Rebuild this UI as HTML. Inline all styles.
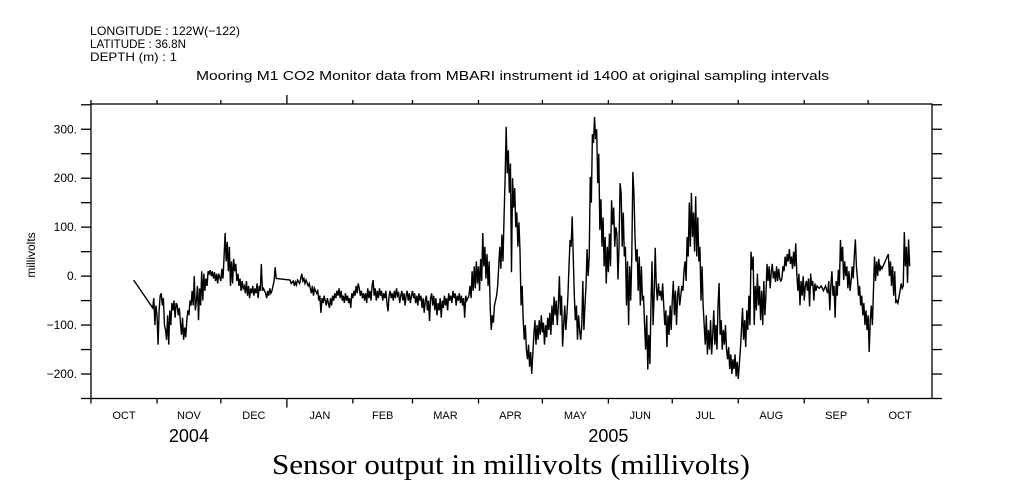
<!DOCTYPE html>
<html><head><meta charset="utf-8"><style>
html,body{margin:0;padding:0;background:#fff;}
svg{display:block;font-family:"Liberation Sans",sans-serif;}
</style></head><body>
<svg id="chart" width="1009" height="504" viewBox="0 0 1009 504" xmlns="http://www.w3.org/2000/svg">
<rect width="1009" height="504" fill="#fff"/>
<g font-size="12" fill="#000">
<text x="90" y="35" textLength="150" lengthAdjust="spacingAndGlyphs">LONGITUDE : 122W(−122)</text>
<text x="90" y="48" textLength="96" lengthAdjust="spacingAndGlyphs">LATITUDE : 36.8N</text>
<text x="90" y="61" textLength="87" lengthAdjust="spacingAndGlyphs">DEPTH (m) : 1</text>
</g>
<text x="196" y="80" font-size="13" textLength="633" lengthAdjust="spacingAndGlyphs">Mooring M1 CO2 Monitor data from MBARI instrument id 1400 at original sampling intervals</text>
<text transform="translate(35,255) rotate(-90)" font-size="12" text-anchor="middle">millivolts</text>
<text x="272" y="474" font-size="28" textLength="478" lengthAdjust="spacingAndGlyphs" font-family="Liberation Serif, serif">Sensor output in millivolts (millivolts)</text>
<g id="axes"></g>
<g id="plot"></g>
</svg>
<script>
const readings = [[20,-8],[29,-65],[29.5,-45],[30,-100],[30.5,-60],[31,-80],[31.5,-140],[32,-70],[32.5,-40],[33,-35],[33.5,-60],[34,-45],[34.5,-100],[35,-110],[35.5,-130],[36,-80],[36.5,-140],[37,-70],[37.5,-100],[38,-55],[38.5,-70],[39,-50],[39.5,-85],[40,-55],[40.5,-60],[41,-80],[41.5,-65],[42,-95],[42.5,-120],[43,-85],[43.5,-130],[44,-105],[44.5,-125],[45,-90],[45.5,-70],[46,-80],[46.5,-50],[47,-60],[47.5,-30],[48,-60],[48.5,0],[49,-70],[49.5,-50],[50,-20],[50.5,-90],[51,-25],[51.5,-60],[52,10],[52.5,-50],[53,5],[53.5,-30],[54,-5],[54.5,-20],[55,10],[55.5,5],[56,12],[56.5,0],[57,10],[57.5,-5],[58,8],[58.5,-10],[59,5],[59.5,-15],[60,5],
[61,-10],[61.5,15],[62,-5],[62.5,40],[63,88],[63.5,30],[64,70],[64.5,10],[65,60],[65.5,-20],[66,30],[66.5,-15],[67,35],[67.5,10],[68,25],[68.5,-10],[69,5],[69.5,-20],[70,-5],[70.5,-30],[71,-10],[71.5,-25],[72,-20],[72.5,-35],[73,-10],[73.5,-40],[74,-20],[74.5,-45],[75,-25],[75.5,-35],[76,-20],[76.5,-40],[77,-25],[77.5,-35],[78,-15],[78.5,-45],[79,-20],[79.5,-30],[80,25],[80.5,-30],[81,-25],[82,-35],[82.5,-45],[83,-30],[83.5,-40],[84,-25],[84.5,-35],[85,-30],[85.5,-20],[86,-10],[86.5,18],[87,-5],[87.5,-5],[93.5,-8],[94,-15],[95,-10],[95.5,-20],[96,-12],[96.5,-18],[97,-8],[98,-15],[99,5],[99.5,-10],[100,-5],[100.5,-15],[101,-8],[102,-20],[102.5,-15],[103,-25],[103.5,-35],[104,-20],[104.5,-40],[105,-25],[106,-35],[106.5,-30],[107,-50],[107.5,-40],[108,-75],[108.5,-45],[109,-55],[109.5,-40],[110,-50],[110.5,-60],[111,-45],[111.5,-55],[112,-65],[112.5,-45],[113,-60],[113.5,-40],[114,-50],[114.5,-35],[115,-45],[115.5,-30],[116,-40],[116.5,-25],[117,-45],[117.5,-30],[118,-50],[118.5,-40],[119,-55],[119.5,-35],[120,-50],[120.5,-40],[121,-55],[121.5,-45],[122,-65],[122.5,-35],[123,-45],[123.5,-30],[124,-40],[124.5,-20],[125,-35],[125.5,-15],[126,-25],[126.5,-40],[127,-30],[127.5,-45],[128,-35],
[128.5,-50],[129,-35],[129.5,-55],[130,-25],[130.5,-45],[131,-30],[131.5,-50],[132,-20],[132.5,-8],[133,-40],[133.5,-25],[134,-50],[134.5,-30],[135,-45],[135.5,-25],[136,-40],[136.5,-30],[137,-50],[137.5,-35],[138,-45],[138.5,-30],[139,-55],[139.5,-72],[140,-40],[140.5,-30],[141,-45],[141.5,-35],[142,-50],[142.5,-30],[143,-45],[143.5,-25],[144,-40],[144.5,-35],[145,-55],[145.5,-40],[146,-30],[146.5,-50],[147,-35],[147.5,-60],[148,-40],[148.5,-30],[149,-50],[149.5,-35],[150,-55],[150.5,-40],[151,-30],[151.5,-45],[152,-35],[152.5,-55],[153,-40],[153.5,-60],[154,-35],[154.5,-50],[155,-40],[155.5,-65],[156,-45],[156.5,-75],[157,-50],[157.5,-40],[158,-70],[158.5,-50],[159,-92],[159.5,-45],[160,-35],[160.5,-60],[161,-40],[161.5,-70],[162,-45],[162.5,-80],[163,-55],[163.5,-70],[164,-45],[164.5,-85],[165,-50],[165.5,-65],[166,-40],[166.5,-60],[167,-45],[167.5,-70],[168,-35],[168.5,-50],[169,-40],[169.5,-55],[170,-30],[170.5,-45],[171,-35],[171.5,-60],[172,-40],[172.5,-50],[173,-35],[173.5,-55],[174,-40],[174.5,-60],[175,-45],[175.5,-85],[176,-40],[176.5,-50],[177,-45],[177.5,-40],[178,-20],[178.5,-45],[179,10],
[179.5,-30],[180,20],[180.5,-25],[181,30],[181.5,-15],[182,20],[182.5,-30],[183,35],[183.5,-10],[184,88],[184.5,20],[185,60],[185.5,-5],[186,45],[186.5,-20],[187,30],[187.5,-65],[188,-110],[188.5,-80],[189,-95],[189.5,-60],[190,-50],[190.5,-40],[191,-20],[191.5,20],[192,60],[192.5,15],[193,85],[193.5,30],[194,120],[194.5,200],[195,305],[195.5,210],[196,257],[196.5,170],[197,230],[197.5,8],[198,200],[198.5,140],[199,180],[199.5,100],[200,130],[200.5,60],[201,110],[201.5,50],[202,-60],[202.5,-20],[203,-90],[203.5,-130],[204,-100],[204.5,-150],[205,-170],[205.5,-140],[206,-185],[206.5,-155],[207,-200],[207.5,-160],[208,-120],[208.5,-90],[209,-140],[209.5,-100],[210,-130],[210.5,-90],[211,-120],[211.5,-80],[212,-115],[212.5,-95],[213,-140],[213.5,-100],[214,-125],[214.5,-85],[215,-110],[215.5,-75],[216,-120],[216.5,-60],[217,-100],[217.5,-42],[218,-80],[218.5,-50],[219,-100],[219.5,-60],[220,0],[220.5,-80],[221,-40],[221.5,-144],[222,-100],[222.5,-60],[223,-110],[223.5,-80],[224,-40],[224.5,20],[225,74],[225.5,60],[226,122],[226.5,40],[227,-40],[227.5,-90],[228,-60],[228.5,-130],[229,-80],[229.5,-110],[230,-130],[230.5,-100],[231,-10],[231.5,-110],[232,-60],[232.5,-20],[233,55],[233.5,0],[234,40],[234.5,203],[235,150],[235.5,290],[236,272],[236.5,325],[237,280],[237.5,300],[238,190],[238.5,250],[239,94],[239.5,157],[240,60],[240.5,120],[241,20],[241.5,80],[242,-15],[242.5,60],[243,8],[243.5,87],[244,20],[244.5,155],[245,105],[245.5,140],[246,60],[246.5,100],[247,87],[247.5,-7],[248,60],[248.5,190],[249,170],[249.5,60],[250,130],[250.5,40],[251,60],[251.5,-60],[252,30],[252.5,-100],[253,20],[253.5,-50],[254,40],[254.5,213],[255,170],[255.5,80],[256,30],[256.5,55],[257,-30],[257.5,40],[258,-60],[258.5,20],[259,-50],[259.5,-40],[260,-100],[260.5,-150],[261,-80],[261.5,-191],[262,-120],[262.5,-180],[263,-60],[263.5,30],[264,-100],[264.5,-40],[265,58],[265.5,-20],[266,-50],[266.5,-15],[267,-40],[267.5,-30],[268,-50],[268.5,-15],[269,-60],[269.5,-100],[270,-70],[270.5,-145],[271,-80],[271.5,-120],[272,-60],[272.5,-110],[273,-50],[273.5,-10],[274,-80],[274.5,-30],[275,-100],[275.5,-40],[276,-20],[276.5,-60],[277,-40],[277.5,-20],[278,-30],[278.5,10],[279,30],[279.5,-10],[280,80],[280.5,40],[281,150],[281.5,60],[282,170],[282.5,80],[283,130],[283.5,50],[284,163],[284.5,40],[285,120],[285.5,30],[286,60],[286.5,-50],[287,20],[287.5,-60],[288,-100],[288.5,-140],[289,-80],[289.5,-160],[290,-110],[290.5,-150],[291,-90],[291.5,-160],[292,-120],[292.5,-70],[293,-140],[293.5,-100],[294,-150],[294.5,-60],[295,-14],[295.5,-120],[296,-90],[296.5,-150],[297,-110],[297.5,-140],[298,-100],[298.5,-150],[299,-170],[299.5,-145],[300,-190],[300.5,-160],[301,-200],[301.5,-170],[302,-190],[302.5,-160],[303,-205],[303.5,-175],[304,-210],[304.5,-180],[305,-150],[305.5,-110],[306,-65],[306.5,-130],[307,-90],[307.5,-145],[308,-70],[308.5,-110],[309,-40],[309.5,-100],[310,50],[310.5,13],[311,40],[311.5,-100],[312,-20],[312.5,-70],[313,5],[313.5,-60],[314,-20],[314.5,-90],[315,-30],[315.5,-100],[316,-10],[316.5,-80],[317,-40],[317.5,25],[318,-10],[318.5,20],[319,-25],[319.5,10],[320,25],[320.5,-5],[321,10],[321.5,-12],[322,20],[322.5,-10],[323,15],[323.5,-5],[324,-10],[324.5,-5],[325,20],[325.5,10],[326,40],[326.5,20],[327,45],[327.5,30],[328,55],[328.5,25],[329,40],[329.5,15],[330,50],[330.5,20],[331,67],[331.5,5],[332,-30],[332.5,5],[333,-60],[333.5,-10],[334,-40],[334.5,0],[335,-50],[335.5,-20],[336,-10],[336.5,-30],[337,-5],[337.5,-62],[338,5],[338.5,-20],[339,-10],[339.5,-50],[340,-15],[340.5,-30],[341,-20],[342,-25],[343,-20],[344,-30],[345,-20],[346,-35],[346.5,-10],[347,-70],[347.5,-20],[348,10],[348.5,-40],[349,-20],[349.5,-85],[350,-10],[350.5,-40],[351,13],[351.5,-20],[352,74],[352.5,30],[353,60],[353.5,-8],[354,30],[354.5,0],[355,20],[355.5,-25],[356,10],[356.5,-30],[357,-10],[357.5,20],[358,-5],[358.5,40],[359,75],[359.5,20],[360,-5],[360.5,-40],[361,-20],[361.5,-60],[362,-40],[362.5,-80],[363,-55],[363.5,-100],[364,-70],[364.5,-110],[365,-80],[365.5,-155],[366,-90],[366.5,-60],[367,-100],[367.5,-30],[368,40],[368.5,-10],[369,30],[369.5,0],[370,35],[370.5,10],[371,20],[371.5,15],[374.5,45],[375,0],[375.5,30],[376,-20],[376.5,20],[377,-40],[377.5,10],[378,-55],[378.5,-50],[379,-55],[380,-30],[380.5,-15],[381,-25],[381.5,-20],[382,90],[382.5,20],[383,60],[383.5,-14],[384,75],[384.5,20]];
const monthNames = ["OCT","NOV","DEC","JAN","FEB","MAR","APR","MAY","JUN","JUL","AUG","SEP","OCT"];
const monthStartDays = [0,31,61,92,123,151,182,212,243,273,304,335,365,396];
const yearLabels = ["2004","2005"];
const yearLabelDays = [46,243];
const yTickLabels = [300,200,100,0,-100,-200];
const yMinorTicks = [350,250,150,50,-50,-150,-250];

const X0=91, X1=932, DAYS=395, YT=104, YB=398.5;
const VMIN=-250, VMAX=351.6;
function xs(d){return X0+(d/DAYS)*(X1-X0);}
function ys(v){return YB-(v-VMIN)/(VMAX-VMIN)*(YB-YT);}
const NS="http://www.w3.org/2000/svg";
const axes=document.getElementById('axes'), plot=document.getElementById('plot');
function mk(tag,attrs,parent){const e=document.createElementNS(NS,tag);for(const k in attrs)e.setAttribute(k,attrs[k]);parent.appendChild(e);return e;}
function line(x1,y1,x2,y2,name){const l=mk('line',{x1:x1,y1:y1,x2:x2,y2:y2,stroke:'#000','stroke-width':1.3},axes);


return l;}
const fr=mk('rect',{x:X0,y:YT,width:X1-X0,height:YB-YT,fill:'none',stroke:'#000','stroke-width':1.3},axes);


[...yTickLabels,...yMinorTicks].forEach(v=>{
  const y=ys(v);
  line(X0-10,y,X0,y,'y-tick-left');
  line(X1,y,X1+10,y,'y-tick-right');
});
yTickLabels.forEach(v=>{
  const t=mk('text',{x:X0-14,y:ys(v)+4,'font-size':12,'text-anchor':'end'},axes);
  t.textContent=(v<0?'−'+(-v):v)+'.';
  
  
});
monthStartDays.forEach((d,i)=>{
  if(d>DAYS) return;
  const x=xs(d);
  const big=(d===92);
  line(x,YT-(big?9:4),x,YT,'x-tick-top');
  line(x,YB,x,YB+(big?9:5),'x-tick-bottom');
});
monthNames.forEach((m,i)=>{
  const a=monthStartDays[i], b=Math.min(monthStartDays[i+1],DAYS);
  const t=mk('text',{x:xs((a+b)/2),y:419,'font-size':11,'text-anchor':'middle'},axes);
  t.textContent=m;
  
  
});
yearLabels.forEach((yl,i)=>{
  const t=mk('text',{x:xs(yearLabelDays[i]),y:442,'font-size':18,'text-anchor':'middle'},axes);
  t.textContent=yl;
  
  
});
const pts=readings.map(r=>xs(r[0]).toFixed(2)+','+ys(r[1]).toFixed(2)).join(' ');
const pl=mk('polyline',{points:pts,fill:'none',stroke:'#000','stroke-width':1.4,'stroke-linejoin':'miter'},plot);


</script>
</body></html>
